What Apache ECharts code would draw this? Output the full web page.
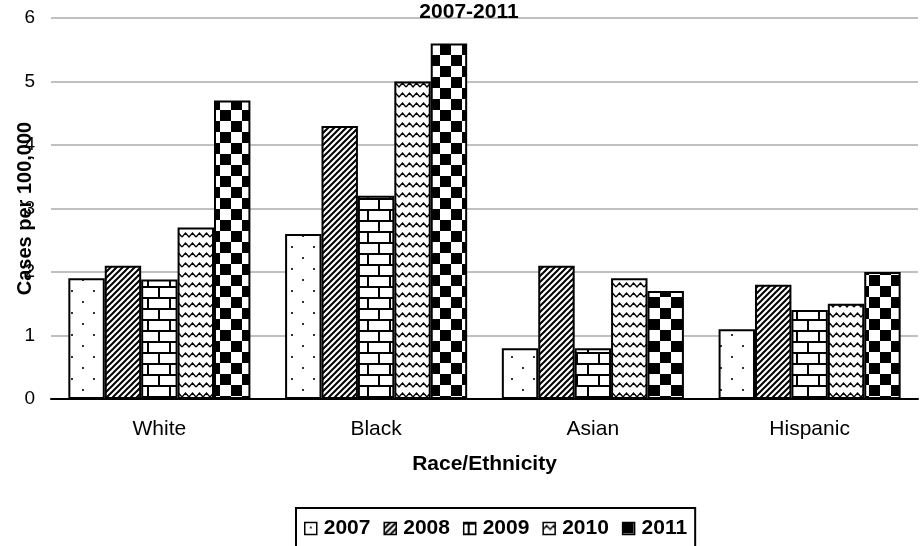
<!DOCTYPE html>
<html><head><meta charset="utf-8">
<script src="https://cdn.jsdelivr.net/npm/echarts@6/dist/echarts.min.js"></script>
<style>html,body{margin:0;padding:0;background:#fff}#c{width:921px;height:546px}</style>
</head><body><div id="c"></div>
<script>
const categories = ['White', 'Black', 'Asian', 'Hispanic'];
const years = ['2007', '2008', '2009', '2010', '2011'];
const v2007 = [1.9, 2.6, 0.8, 1.1];
const v2008 = [2.1, 4.3, 2.1, 1.8];
const v2009 = [1.88, 3.2, 0.8, 1.4];
const v2010 = [2.7, 5.0, 1.9, 1.5];
const v2011 = [4.7, 5.6, 1.7, 2.0];
const yTicks = [0, 1, 2, 3, 4, 5, 6];
const titleText = '2007-2011';

function tile(w, h, draw) {
  const c = document.createElement('canvas');
  c.width = w; c.height = h;
  const g = c.getContext('2d');
  g.fillStyle = '#fff'; g.fillRect(0, 0, w, h);
  draw(g);
  return { image: c, repeat: 'repeat' };
}
const patDots = tile(22, 22, g => {
  g.fillStyle = '#333';
  g.fillRect(5, 4, 2, 2);
  g.fillRect(16, 15, 2, 2);
});
const patDiag = tile(6, 6, g => {
  g.strokeStyle = '#000'; g.lineWidth = 2;
  g.beginPath();
  g.moveTo(-1, 7); g.lineTo(7, -1);
  g.moveTo(-4, 4); g.lineTo(4, -4);
  g.moveTo(2, 10); g.lineTo(10, 2);
  g.stroke();
});
const patBrick = tile(22, 22, g => {
  g.fillStyle = '#000';
  g.fillRect(0, 0, 22, 2);
  g.fillRect(0, 11, 22, 2);
  g.fillRect(4, 0, 2, 11);
  g.fillRect(15, 11, 2, 11);
});
const patWave = tile(14, 10, g => {
  g.strokeStyle = '#000'; g.lineWidth = 1.4;
  g.beginPath();
  g.moveTo(0, 7); g.lineTo(3.5, 3); g.lineTo(7, 7); g.lineTo(10.5, 3); g.lineTo(14, 7);
  g.stroke();
});
const patCheck = tile(22, 22, g => {
  g.fillStyle = '#000';
  g.fillRect(0, 0, 11, 11);
  g.fillRect(11, 11, 11, 11);
});

const pats = [patDots, patDiag, patBrick, patWave, patCheck];
const vals = [v2007, v2008, v2009, v2010, v2011];
const FONT = 'Liberation Sans, Arial, sans-serif';

const chart = echarts.init(document.getElementById('c'), null, { renderer: 'canvas' });
chart.setOption({
  animation: false,
  backgroundColor: '#fff',
  title: {
    text: titleText, left: 464, top: -3, textAlign: 'center',
    textStyle: { fontFamily: FONT, fontSize: 21, fontWeight: 'bold', color: '#000' }
  },
  grid: { left: 51, right: 3, top: 18, bottom: 147, containLabel: false, outerBoundsMode: 'none' },
  legend: {
    data: years, left: 296, top: 508,
    padding: [10, 8, 30, 8],
    borderColor: '#000', borderWidth: 2,
    icon: 'rect', itemWidth: 12, itemHeight: 12, itemGap: 13,
    textStyle: { fontFamily: FONT, fontSize: 21, fontWeight: 'bold', color: '#000', padding: [0, 0, 0, 2] },
    itemStyle: { borderColor: '#000', borderWidth: 1.5 }
  },
  xAxis: {
    type: 'category', data: categories,
    name: 'Race/Ethnicity', nameLocation: 'middle', nameGap: 55, nameMoveOverlap: false,
    nameTextStyle: { fontFamily: FONT, fontSize: 21, fontWeight: 'bold', color: '#000' },
    axisLine: { lineStyle: { color: '#000', width: 2 } },
    axisTick: { show: false },
    axisLabel: { fontFamily: FONT, fontSize: 21, color: '#000', margin: 20 }
  },
  yAxis: {
    type: 'value', min: yTicks[0], max: yTicks[yTicks.length - 1], interval: 1,
    name: 'Cases per 100,000', nameLocation: 'middle', nameGap: 16, nameMoveOverlap: false,
    nameTextStyle: { fontFamily: FONT, fontSize: 20, fontWeight: 'bold', color: '#000' },
    axisLine: { show: false }, axisTick: { show: false },
    axisLabel: { fontFamily: FONT, fontSize: 19, color: '#000', margin: 16 },
    splitLine: { lineStyle: { color: '#c0c0c0', width: 2 } }
  },
  series: years.map((y, i) => ({
    name: y, type: 'bar', data: vals[i],
    barGap: '0%', barCategoryGap: '16%',
    itemStyle: { color: pats[i], borderColor: '#000', borderWidth: 2 }
  }))
});
</script></body></html>
